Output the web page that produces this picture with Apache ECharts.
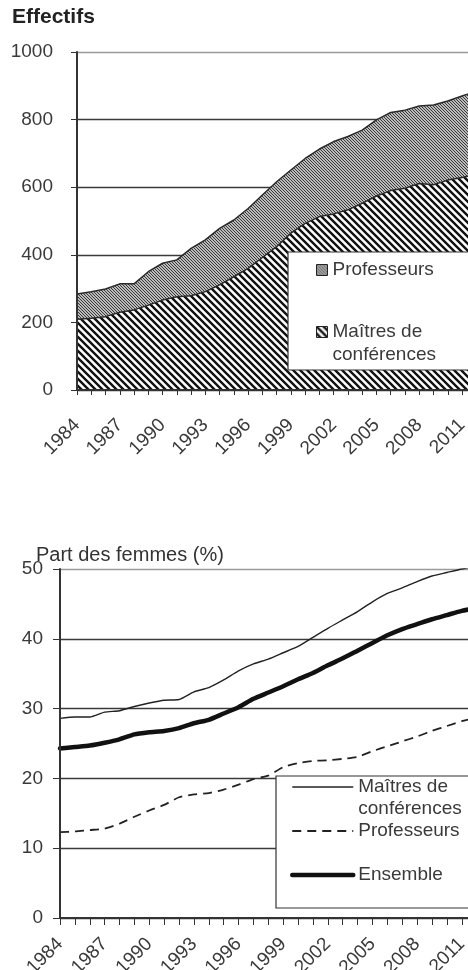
<!DOCTYPE html>
<html>
<head>
<meta charset="utf-8">
<script src="https://cdn.jsdelivr.net/npm/echarts@6/dist/echarts.min.js"></script>
<style>
  html, body { margin: 0; padding: 0; background: #fff; }
  #chart-effectifs, #chart-femmes { width: 468px; height: 485px; }
</style>
</head>
<body>
<div id="chart-effectifs"></div>
<div id="chart-femmes"></div>
<script>
// years shown on both charts (the picture is cut just after 2011)
const years = [1984, 1985, 1986, 1987, 1988, 1989, 1990, 1991, 1992, 1993,
  1994, 1995, 1996, 1997, 1998, 1999, 2000, 2001, 2002, 2003,
  2004, 2005, 2006, 2007, 2008, 2009, 2010, 2011, 2012];

// Effectifs (stacked areas)
const mcfCount = [209, 212, 217, 230, 237, 251, 266, 276, 279, 291,
  311, 335, 360, 392, 424, 464, 493, 513, 521, 533,
  552, 574, 590, 597, 611, 607, 621, 629, 638];
const profCount = [75, 79, 82, 84, 77, 99, 109, 109, 140, 153,
  167, 168, 177, 185, 192, 187, 192, 200, 214, 217,
  217, 225, 231, 231, 229, 236, 234, 241, 246];

// Part des femmes (%)
const mcfShare = [28.6, 28.8, 28.8, 29.5, 29.7, 30.3, 30.8, 31.2, 31.3, 32.4,
  33.0, 34.1, 35.4, 36.4, 37.1, 38.0, 38.9, 40.2, 41.5, 42.7,
  43.9, 45.3, 46.5, 47.3, 48.2, 49.0, 49.5, 50.0, 50.4];
const profShare = [12.3, 12.4, 12.6, 12.8, 13.5, 14.5, 15.4, 16.2, 17.3, 17.7,
  17.9, 18.4, 19.1, 19.9, 20.4, 21.6, 22.2, 22.5, 22.6, 22.8,
  23.1, 23.9, 24.6, 25.3, 26.0, 26.8, 27.5, 28.2, 28.7];
const allShare = [24.3, 24.5, 24.7, 25.1, 25.6, 26.3, 26.6, 26.8, 27.2, 27.9,
  28.4, 29.3, 30.2, 31.4, 32.3, 33.2, 34.2, 35.1, 36.2, 37.2,
  38.3, 39.4, 40.5, 41.4, 42.1, 42.8, 43.4, 44.0, 44.4];

const FONT = 'Liberation Sans, Arial, sans-serif';
const labelFont = { fontFamily: FONT, fontSize: 19, color: '#3a3a3a' };

function pairs(values) {
  return years.map((y, i) => [y, values[i]]);
}

function yearLabel(v) {
  return (Number.isInteger(v) && (v - 1984) % 3 === 0) ? String(v) : '';
}

// diagonal hatch "\\\" drawn on a small canvas tile
function hatch(size, width, fg, bg) {
  const c = document.createElement('canvas');
  c.width = size;
  c.height = size;
  const ctx = c.getContext('2d');
  ctx.fillStyle = bg;
  ctx.fillRect(0, 0, size, size);
  ctx.strokeStyle = fg;
  ctx.lineWidth = width;
  ctx.beginPath();
  [-size, 0, size].forEach(function (k) {
    ctx.moveTo(k - 1, -1);
    ctx.lineTo(k + size + 1, size + 1);
  });
  ctx.stroke();
  return { image: c, repeat: 'repeat' };
}

const mcfHatch = hatch(7, 2.4, '#111', '#fff');
const profHatch = hatch(3, 1, '#3a3a3a', '#bababa');

function baseX(tickLen, margin) {
  return {
    type: 'value', min: 1984, max: 2011.42, interval: 1,
    axisLine: { show: false },
    axisTick: { length: tickLen, lineStyle: { color: '#333', width: 1 } },
    axisLabel: Object.assign({ rotate: 45, margin: margin, formatter: yearLabel }, labelFont),
    splitLine: { show: false }
  };
}

// plain axis line drawn above the areas
function overlayAxis(pos, min, max) {
  return {
    type: 'value', min: min, max: max, position: pos, z: 10,
    axisLine: { show: true, onZero: false, lineStyle: { color: '#333', width: 2 } },
    axisTick: { show: false },
    axisLabel: { show: false },
    splitLine: { show: false }
  };
}

function baseY(max, interval, margin, tickLen) {
  return {
    type: 'value', min: 0, max: max, interval: interval,
    axisLine: { show: false },
    axisTick: { show: true, length: tickLen, lineStyle: { color: '#333' } },
    axisLabel: Object.assign({ margin: margin, formatter: function (v) { return String(v); } }, labelFont),
    splitLine: {
      lineStyle: { color: ['#3a3a3a', '#3a3a3a', '#3a3a3a', '#3a3a3a', '#3a3a3a', '#9a9a9a'], width: 1.3 }
    }
  };
}

drawEffectifs();
drawFemmes();

function drawEffectifs() {
  const chart = echarts.init(document.getElementById('chart-effectifs'));
  // top of the grey area = MCF + professeurs
  const totalCount = mcfCount.map((v, i) => v + profCount[i]);
  const legendText = {
    'Professeurs': 'Professeurs',
    'Maîtres de conférences': ' \nMaîtres de\nconférences'
  };
  chart.setOption({
    animation: false,
    title: {
      text: 'Effectifs', left: 12, top: 7, padding: 0,
      textStyle: { fontFamily: FONT, fontSize: 21, fontWeight: 'bold', color: '#222' }
    },
    grid: { left: 77, right: 0, top: 52, height: 338, outerBoundsMode: 'none' },
    xAxis: [baseX(5, 32), overlayAxis('bottom', 1984, 2011.42)],
    yAxis: [baseY(1000, 200, 24, 6), overlayAxis('left', 0, 1000)],
    legend: {
      orient: 'vertical', left: 288, top: 252,
      padding: [6.5, 40, 3.5, 28],
      itemGap: 16, itemWidth: 11, itemHeight: 11,
      backgroundColor: '#fff', borderColor: '#333', borderWidth: 1.2,
      selectedMode: false,
      data: [{ name: 'Professeurs', icon: 'rect' }, { name: 'Maîtres de conférences', icon: 'rect' }],
      itemStyle: { borderColor: '#222', borderWidth: 1 },
      formatter: function (name) { return legendText[name]; },
      textStyle: Object.assign({ lineHeight: 23 }, labelFont)
    },
    series: [
      {
        name: 'Professeurs', type: 'line', z: 2,
        data: pairs(totalCount), symbol: 'none',
        lineStyle: { color: '#2a2a2a', width: 1.5 },
        itemStyle: { color: profHatch },
        areaStyle: { color: profHatch, opacity: 1 }
      },
      {
        name: 'Maîtres de conférences', type: 'line', z: 3,
        data: pairs(mcfCount), symbol: 'none',
        lineStyle: { color: '#2a2a2a', width: 1.5 },
        itemStyle: { color: mcfHatch },
        areaStyle: { color: mcfHatch, opacity: 1 }
      }
    ]
  });
}

function drawFemmes() {
  const chart = echarts.init(document.getElementById('chart-femmes'));
  const legendText = {
    'Maîtres de conférences': ' \nMaîtres de\nconférences',
    'Professeurs': 'Professeurs',
    'Ensemble': ' \nEnsemble\n '
  };
  chart.setOption({
    animation: false,
    title: {
      text: 'Part des femmes (%)', left: 36, top: 60, padding: 0,
      textStyle: { fontFamily: FONT, fontSize: 20, fontWeight: 'normal', color: '#333' }
    },
    grid: { left: 60, right: 0, top: 84, height: 349, outerBoundsMode: 'none' },
    xAxis: [baseX(7, 23), overlayAxis('bottom', 1984, 2011.42)],
    yAxis: [baseY(50, 10, 17, 7), overlayAxis('left', 0, 50)],
    legend: {
      orient: 'vertical', left: 276, top: 291,
      padding: [-22, 40, 0, 14],
      itemGap: 0, itemWidth: 61, itemHeight: 14,
      backgroundColor: '#fff', borderColor: '#333', borderWidth: 1.2,
      selectedMode: false,
      itemStyle: { opacity: 0 },
      data: [
        { name: 'Maîtres de conférences', lineStyle: { width: 1.4 } },
        { name: 'Professeurs', lineStyle: { width: 1.8 } },
        { name: 'Ensemble', lineStyle: { width: 4.5 } }
      ],
      formatter: function (name) { return legendText[name]; },
      textStyle: Object.assign({ lineHeight: 22 }, labelFont)
    },
    series: [
      {
        name: 'Maîtres de conférences', type: 'line', data: pairs(mcfShare),
        symbol: 'none', smooth: 0.2,
        lineStyle: { color: '#222', width: 1.4 }
      },
      {
        name: 'Professeurs', type: 'line', data: pairs(profShare),
        symbol: 'none', smooth: 0.2,
        lineStyle: { color: '#222', width: 1.8, type: [9, 6] }
      },
      {
        name: 'Ensemble', type: 'line', data: pairs(allShare),
        symbol: 'none', smooth: 0.2,
        lineStyle: { color: '#111', width: 4.5, cap: 'round' }
      }
    ]
  });
}
</script>
</body>
</html>
